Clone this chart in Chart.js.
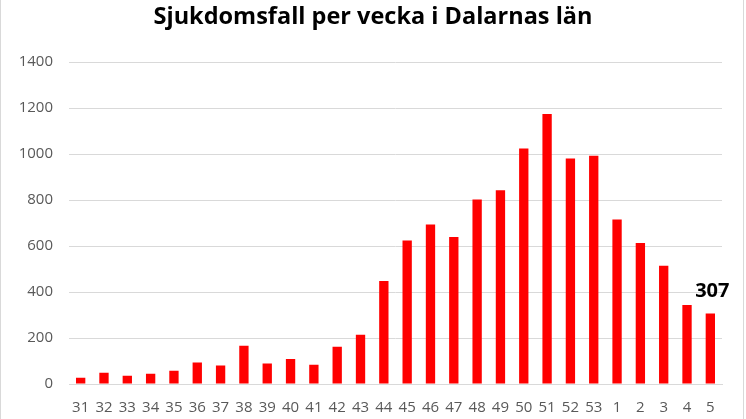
<!DOCTYPE html>
<html>
<head>
<meta charset="utf-8">
<script src="https://cdn.jsdelivr.net/npm/chart.js@4"></script>
<style>
  html, body { margin: 0; padding: 0; background: #fff; }
  #wrap { position: relative; width: 746px; height: 419px; }
</style>
</head>
<body>
<div id="wrap"><canvas id="weekChart"></canvas></div>
<script>
// Week numbers (x axis)
const weeks = ['31','32','33','34','35','36','37','38','39','40','41','42','43','44','45','46','47',
               '48','49','50','51','52','53','1','2','3','4','5'];
// Cases per week
const cases = [27, 49, 36, 45, 58, 93, 80, 166, 89, 109, 84, 162, 214, 448, 624, 694, 639,
               803, 843, 1025, 1175, 981, 993, 716, 613, 514, 344, 307];
const chartTitle = 'Sjukdomsfall per vecka i Dalarnas län';
const yMax = 1400;
const yStep = 200;

// label only on the last bar, plus a thin frame left/right like the original
const lastLabel = {
  id: 'lastLabel',
  afterDatasetsDraw(chart) {
    const meta = chart.getDatasetMeta(0);
    const i = cases.length - 1;
    const bar = meta.data[i];
    const ctx = chart.ctx;
    ctx.save();
    ctx.font = 'bold 20px "Open Sans"';
    ctx.fillStyle = '#000';
    ctx.textAlign = 'center';
    ctx.textBaseline = 'middle';
    ctx.fillText(String(cases[i]), bar.x + 2, bar.y - 22);
    ctx.restore();
  },
  afterDraw(chart) {
    const ctx = chart.ctx;
    ctx.save();
    ctx.strokeStyle = '#d9d9d9';
    ctx.lineWidth = 1;
    ctx.beginPath();
    ctx.moveTo(0.5, 0); ctx.lineTo(0.5, chart.height);
    ctx.moveTo(743.5, 0); ctx.lineTo(743.5, chart.height);
    ctx.stroke();
    ctx.restore();
  }
};

const ctxWeek = document.getElementById('weekChart').getContext('2d');
const weekChart = new Chart(ctxWeek, {
  type: 'bar',
  data: {
    labels: weeks,
    datasets: [{
      label: 'Sjukdomsfall',
      data: cases,
      backgroundColor: '#FF0000',
      barPercentage: 0.4,
      categoryPercentage: 1.0
    }]
  },
  options: {
    responsive: true,
    maintainAspectRatio: false,
    animation: false,
    layout: { padding: 0 },
    plugins: {
      legend: { display: false },
      tooltip: { enabled: false },
      title: {
        display: true,
        text: chartTitle,
        color: '#000',
        font: { family: 'Open Sans', size: 23.5, weight: 'bold' },
        padding: { top: 3, bottom: 31 }
      }
    },
    scales: {
      x: {
        grid: { display: false, drawTicks: false },
        border: { color: '#d9d9d9' },
        ticks: {
          color: '#595959',
          font: { family: 'Open Sans', size: 15 },
          padding: 15,
          maxRotation: 0,
          autoSkip: false
        },
        afterFit(scale) { scale.height = 35; }
      },
      y: {
        min: 0,
        max: yMax,
        grid: { color: '#d9d9d9', drawTicks: false },
        border: { display: false },
        ticks: {
          stepSize: yStep,
          color: '#595959',
          font: { family: 'Open Sans', size: 15 },
          padding: 16,
          callback: (v) => String(v)
        },
        afterFit(scale) { scale.width = 69; }
      },
      // empty right axis, only keeps the right margin so the title stays centred on the page
      yRight: {
        position: 'right',
        min: 0,
        max: yMax,
        grid: { display: false, drawTicks: false },
        border: { display: false },
        ticks: { display: false },
        afterFit(scale) { scale.width = 24; }
      }
    }
  },
  plugins: [lastLabel]
});
</script>
</body>
</html>
